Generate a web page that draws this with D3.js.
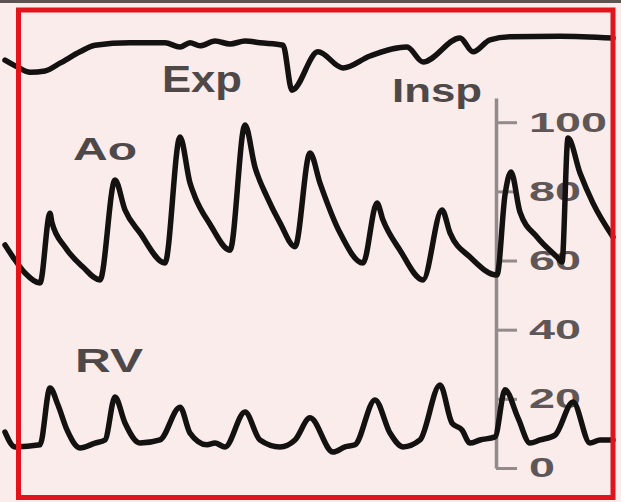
<!DOCTYPE html>
<html>

<head>
  <title>Ao / RV pressure</title>
</head>

<style>
  body,
  html {
    margin: 0;
    padding: 0;
    background: #f9ecea;
  }

  #svg {
    display: block;
  }
</style>

<body>

  <svg id="svg" width="621" height="502"></svg>

  <script src="https://d3js.org/d3.v7.min.js"></script>
  <script>

    // time in seconds, pressures in mmHg
    const aoTime = [0, 0.08, 0.2, 0.35, 0.45, 0.47, 0.6, 0.78, 0.95, 1.1, 1.2, 1.35, 1.6, 1.75, 1.85, 1.9, 2.05, 2.25,
      2.4, 2.5, 2.62, 2.75, 2.9, 3.05, 3.15, 3.35, 3.58, 3.72, 3.78, 3.95, 4.18, 4.37, 4.45, 4.65, 4.92, 5.0,
      5.06, 5.15, 5.32, 5.52, 5.57, 5.63, 5.75, 5.88, 6.08]
    const aoValues = [64.5, 61.0, 56.4, 53.5, 73.7, 70.9, 63.9, 58.1, 54.4, 83.3, 74.6, 68.0, 59.3, 95.7, 82.4, 78.4, 70.5, 63.0,
      99.2, 87.0, 78.4, 70.9, 64.0, 91.1, 82.4, 68.0, 59.3, 76.6, 71.7, 63.0, 54.4, 74.6, 68.0, 61.0, 55.8, 79.0,
      85.6, 74.0, 66.8, 61.0, 59.6, 95.4, 85.3, 76.6, 66.8]

    const rvTime = [0, 0.1, 0.35, 0.45, 0.53, 0.62, 0.75, 0.9, 1.0, 1.1, 1.2, 1.35, 1.55, 1.75, 1.85, 2.02, 2.1, 2.2,
      2.4, 2.55, 2.75, 2.9, 3.05, 3.28, 3.4, 3.5, 3.7, 3.85, 3.98, 4.15, 4.35, 4.47, 4.57, 4.65, 4.75, 4.9, 5.0,
      5.13, 5.25, 5.35, 5.5, 5.68, 5.85, 5.95, 6.08]
    const rvValues = [10.4, 6.1, 6.7, 23.1, 18.2, 11.0, 5.8, 7.2, 8.1, 20.5, 13.0, 7.2, 8.1, 17.6, 10.1, 6.7, 7.2, 6.1,
      16.2, 8.1, 6.1, 8.1, 14.5, 4.6, 6.1, 6.7, 19.7, 10.1, 6.1, 8.1, 24.0, 13.0, 11.0, 7.2, 8.1, 9.0, 22.6,
      14.5, 7.2, 8.1, 9.5, 19.1, 7.2, 8.1, 8.1]

    // respiration trace, arbitrary units
    const respTime = [0, 0.12, 0.25, 0.4, 0.55, 0.75, 0.9, 1.25, 1.6, 1.75, 1.85, 1.95, 2.1, 2.25, 2.4, 2.55, 2.78,
      2.87, 3.13, 3.38, 3.65, 4.02, 4.18, 4.55, 4.68, 4.85, 5.05, 5.55, 6.08]
    const respValues = [5.8, 4.7, 3.8, 4.0, 5.3, 7.2, 8.3, 8.7, 8.7, 8.0, 8.7, 8.2, 9.0, 8.5, 9.0, 8.7, 8.3,
      0.8, 7.2, 4.5, 6.5, 8.0, 5.5, 9.5, 7.2, 9.2, 9.7, 9.8, 9.5]

    const tickValues = [0, 20, 40, 60, 80, 100]

    const svg = d3.select('#svg')

    const xscale = d3.scaleLinear()
      .domain([0, 6.1])
      .range([5, 615])

    const yscale = d3.scaleLinear()
      .domain([0, 107])
      .range([468, 98])

    const respScale = d3.scaleLinear()
      .domain([0, 10])
      .range([95, 35])

    // background + top strip
    svg.append('rect')
      .attr('width', 621)
      .attr('height', 502)
      .attr('fill', '#f9ecea')
    svg.append('rect')
      .attr('width', 621)
      .attr('height', 3)
      .attr('fill', '#5e5352')

    // pressure axis on the right
    const axis = d3.axisRight(yscale)
      .tickValues(tickValues)
      .tickSize(21)
      .tickSizeOuter(0)
      .tickPadding(12)

    const gAxis = svg.append('g')
      .attr('transform', 'translate(496,0)')
      .call(axis)

    gAxis.select('.domain')
      .attr('stroke', '#938b8b')
      .attr('stroke-width', 3.5)
    gAxis.selectAll('.tick line')
      .attr('stroke', '#938b8b')
      .attr('stroke-width', 3)
    gAxis.selectAll('.tick text')
      .attr('fill', '#5f5757')
      .style('font-family', '"Liberation Sans", Arial, sans-serif')
      .style('font-weight', 'bold')
      .style('font-size', '28px')
      .attr('textLength', d => String(d).length * 26)
      .attr('lengthAdjust', 'spacingAndGlyphs')

    // traces
    function drawTrace(times, values, ys) {
      const pts = times.map((t, i) => [t, values[i]])
      const linegen = d3.line()
        .x(d => xscale(d[0]))
        .y(d => ys(d[1]))
        .curve(d3.curveMonotoneX)
      svg.append('path')
        .attr('d', linegen(pts))
        .attr('fill', 'none')
        .attr('stroke', '#141111')
        .attr('stroke-width', 5.5)
        .attr('stroke-linejoin', 'round')
        .attr('stroke-linecap', 'round')
    }

    drawTrace(respTime, respValues, respScale)
    drawTrace(aoTime, aoValues, yscale)
    drawTrace(rvTime, rvValues, yscale)

    // labels
    const labels = [
      { text: 'Exp', x: 162, y: 92, size: 36, len: 80 },
      { text: 'Insp', x: 392, y: 102, size: 34, len: 90 },
      { text: 'Ao', x: 73, y: 160, size: 32, len: 64 },
      { text: 'RV', x: 75, y: 372, size: 34, len: 68 }
    ]
    svg.selectAll('.lbl')
      .data(labels)
      .join('text')
      .attr('class', 'lbl')
      .attr('x', d => d.x)
      .attr('y', d => d.y)
      .attr('textLength', d => d.len)
      .attr('lengthAdjust', 'spacingAndGlyphs')
      .attr('fill', '#4f4848')
      .style('font-family', '"Liberation Sans", Arial, sans-serif')
      .style('font-weight', 'bold')
      .style('font-size', d => d.size + 'px')
      .text(d => d.text)

    // red frame
    svg.append('rect')
      .attr('x', 18.5)
      .attr('y', 10)
      .attr('width', 594.5)
      .attr('height', 487.5)
      .attr('fill', 'none')
      .attr('stroke', '#e3131b')
      .attr('stroke-width', 5)

  </script>

</body>

</html>
